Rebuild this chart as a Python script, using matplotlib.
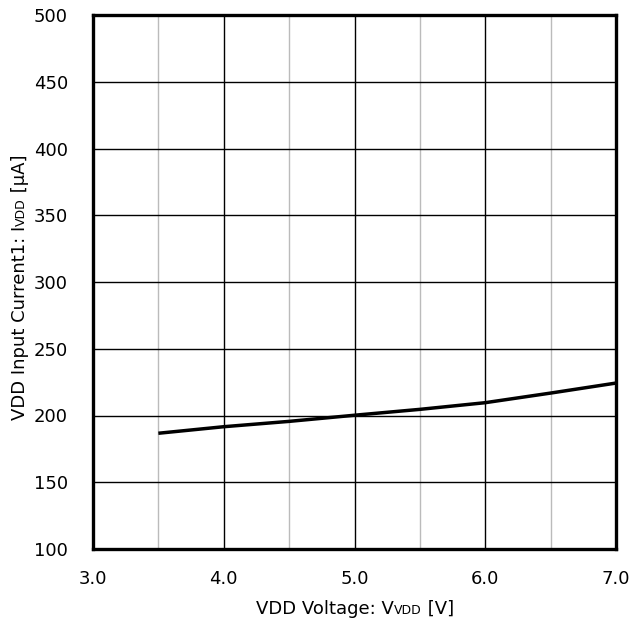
import matplotlib
matplotlib.use("Agg")
import matplotlib.pyplot as plt
from matplotlib.ticker import FixedLocator

plt.rcParams["font.family"] = ["DejaVu Sans"]

vdd = [3.5, 4.0, 4.5, 5.0, 5.5, 6.0, 6.5, 7.0]
idd = [186.7, 191.6, 195.6, 200.2, 204.6, 209.6, 216.8, 224.3]

xticks = [3.0, 4.0, 5.0, 6.0, 7.0]
xtick_labels = ["3.0", "4.0", "5.0", "6.0", "7.0"]
yticks = [100, 150, 200, 250, 300, 350, 400, 450, 500]
ytick_labels = [str(v) for v in yticks]

DPI = 100
W, H = 633, 627
fig = plt.figure(figsize=(W / DPI, H / DPI), dpi=DPI)
ax = fig.add_axes([93 / W, 1 - 549 / H, 523 / W, 534 / H])

ax.plot(vdd, idd, color="black", lw=2.5, zorder=3, solid_capstyle="butt")
ax.set_xlim(3.0, 7.0)
ax.set_ylim(100, 500)
ax.set_xticks(xticks)
ax.set_xticklabels(xtick_labels)
ax.set_yticks(yticks)
ax.set_yticklabels(ytick_labels)
ax.xaxis.set_minor_locator(FixedLocator([3.5, 4.5, 5.5, 6.5]))
ax.tick_params(which="both", length=0, labelsize=13)
ax.tick_params(axis="x", pad=15)
ax.tick_params(axis="y", pad=18)
ax.grid(which="major", color="black", lw=1.0, zorder=1)
ax.grid(which="minor", axis="x", color="#bbbbbb", lw=1.0, zorder=1)
for s in ax.spines.values():
    s.set_linewidth(2.4)
    s.set_zorder(4)

fig.canvas.draw()
r = fig.canvas.get_renderer()


def widths(pieces):
    out = []
    for txt, sz in pieces:
        t = fig.text(0, 0, txt, fontsize=sz)
        bb = t.get_window_extent(renderer=r)
        out.append(bb.width)
        t.remove()
    return out


# x label
xpieces = [("VDD Voltage: V", 13), ("VDD", 9), (" [V]", 13)]
ws = widths(xpieces)
total = sum(ws)
cx = 355
x0 = cx - total / 2
ybase = H - 614
for (txt, sz), w in zip(xpieces, ws):
    fig.text(x0 / W, ybase / H, txt, fontsize=sz, ha="left", va="baseline")
    x0 += w

# y label (rotated)
ypieces = [("VDD Input Current1: I", 13), ("VDD", 9), (" [μA]", 13)]
ws = widths(ypieces)
total = sum(ws)
cy = H - 287
y0 = cy - total / 2
xbase = 25
for (txt, sz), w in zip(ypieces, ws):
    fig.text(xbase / W, y0 / H, txt, fontsize=sz, rotation=90,
             rotation_mode="anchor", ha="left", va="baseline")
    y0 += w

fig.savefig("out.png", dpi=DPI)
